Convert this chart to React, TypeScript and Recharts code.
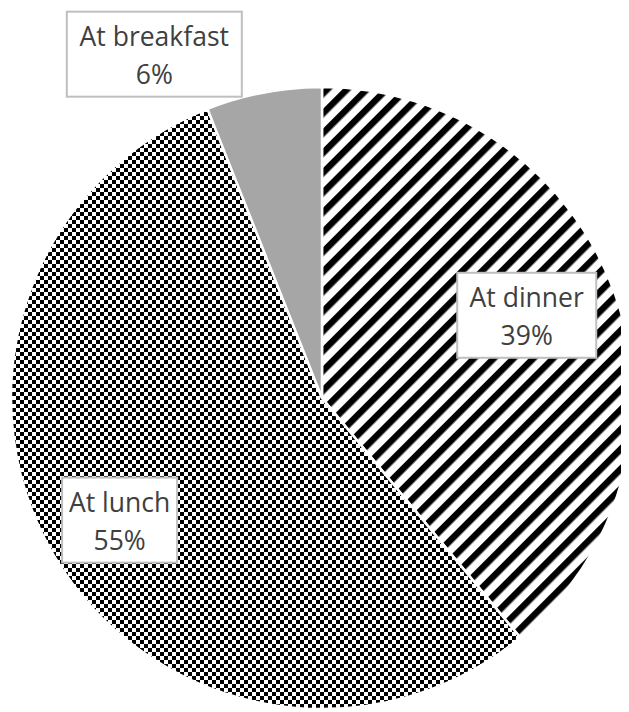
import React from "react";
import { PieChart, Pie, Cell } from "recharts";

const categories = ["At dinner", "At lunch", "At breakfast"];
const values = [39, 55, 6];
const fills = ["url(#stripes)", "url(#checker)", "#a6a6a6"];

const data = categories.map((name, i) => ({ name, value: values[i] }));

const RADIAN = Math.PI / 180;
// label layout: radius factor, angle offset, box size
const labelLayout = [
  { r: 0.71, da: 2.2, w: 139, h: 85 },
  { r: 0.76, da: 0.5, w: 115, h: 85 },
  { r: 1.23, da: 15.2, w: 175, h: 85 },
];

const renderLabel = (props: any) => {
  const { cx, cy, midAngle, outerRadius, index, percent, name } = props;
  const L = labelLayout[index];
  const a = (midAngle + L.da) * RADIAN;
  const x = cx + L.r * outerRadius * Math.cos(-a);
  const y = cy + L.r * outerRadius * Math.sin(-a);
  return (
    <g key={`lbl-${index}`}>
      <rect
        x={x - L.w / 2}
        y={y - L.h / 2}
        width={L.w}
        height={L.h}
        fill="#ffffff"
        stroke="#bfbfbf"
        strokeWidth={2}
      />
      <text
        x={x}
        y={y - 18}
        textAnchor="middle"
        dominantBaseline="central"
        fill="#404040"
        fontSize={26.5}
        fontFamily="'Open Sans', sans-serif"
      >
        {name}
      </text>
      <text
        x={x}
        y={y + 20}
        textAnchor="middle"
        dominantBaseline="central"
        fill="#404040"
        fontSize={26.5}
        fontFamily="'Open Sans', sans-serif"
      >
        {`${Math.round(percent * 100)}%`}
      </text>
    </g>
  );
};

export default function App() {
  return (
    <PieChart width={621} height={704} margin={{ top: 0, right: 0, bottom: 0, left: 0 }}>
      <defs>
        <pattern
          id="stripes"
          patternUnits="userSpaceOnUse"
          width={14}
          height={14}
          patternTransform="rotate(45)"
        >
          <rect x={0} y={0} width={14} height={14} fill="#ffffff" />
          <rect x={0} y={0} width={6.5} height={14} fill="#000000" />
        </pattern>
        <pattern id="checker" patternUnits="userSpaceOnUse" width={8} height={8}>
          <rect x={0} y={0} width={8} height={8} fill="#000000" />
          <rect x={0} y={0} width={4} height={4} fill="#ffffff" />
          <rect x={4} y={4} width={4} height={4} fill="#ffffff" />
        </pattern>
      </defs>
      <Pie
        data={data}
        dataKey="value"
        nameKey="name"
        cx={314}
        cy={390}
        outerRadius={311}
        startAngle={90}
        endAngle={-270}
        stroke="#ffffff"
        strokeWidth={2.5}
        label={renderLabel}
        labelLine={false}
        isAnimationActive={false}
      >
        {data.map((d, i) => (
          <Cell key={d.name} fill={fills[i]} />
        ))}
      </Pie>
    </PieChart>
  );
}
